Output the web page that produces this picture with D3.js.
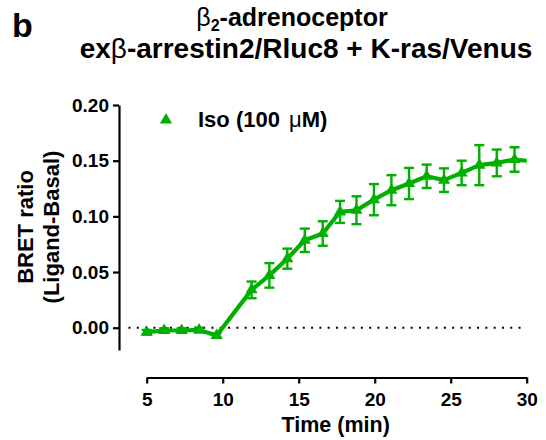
<!DOCTYPE html>
<html>
<head>
<meta charset="utf-8">
<script src="https://cdn.jsdelivr.net/npm/d3@7"></script>
<style>
  body { margin: 0; background: #fff; }
  svg { font-family: "Liberation Sans", Arial, sans-serif; font-weight: bold; }
</style>
</head>
<body>
<svg width="546" height="440"></svg>
<script>
// time points (min), mean BRET ratio and SEM
const times = [5.0, 6.15, 7.3, 8.45, 9.6, 11.9, 13.07, 14.25, 15.4, 16.58, 17.72, 18.8, 19.95,
               21.1, 22.26, 23.42, 24.56, 25.72, 26.88, 28.03, 29.2, 30.35];
const ratio = [-0.004, -0.0025, -0.0025, -0.002, -0.007, 0.034, 0.047, 0.062, 0.0785, 0.0846, 0.104,
               0.1055, 0.115, 0.1235, 0.1295, 0.136, 0.1325, 0.139, 0.146, 0.148, 0.151, 0.1495];
const sem = [0.002, 0.002, 0.002, 0.002, 0.002, 0.0075, 0.011, 0.009, 0.0105, 0.011, 0.0099,
             0.0125, 0.014, 0.0135, 0.014, 0.0105, 0.0106, 0.011, 0.018, 0.012, 0.011, 0.011];
const xTicks = [5, 10, 15, 20, 25, 30];
const yTicks = [0, 0.05, 0.10, 0.15, 0.20];

const green = "#00b000";
const data = times.map((t, i) => ({ t: t, v: ratio[i], e: sem[i] }));

const svg = d3.select("svg");

const x = d3.scaleLinear().domain([5, 30]).range([146.7, 526.7]);
const y = d3.scaleLinear().domain([-0.02, 0.2]).range([350, 105]);

// clip data at the end of the x axis
svg.append("defs").append("clipPath").attr("id", "plotclip")
    .append("rect")
    .attr("x", 120).attr("y", 0)
    .attr("width", x(30) - 120).attr("height", 440);

// y axis
const yAxis = svg.append("g")
    .attr("transform", "translate(119,0)")
    .call(d3.axisLeft(y).tickValues(yTicks).tickFormat(d3.format(".2f")).tickSize(6).tickSizeOuter(0).tickPadding(4));

// x axis
const xAxis = svg.append("g")
    .attr("transform", "translate(0,377.5)")
    .call(d3.axisBottom(x).tickValues(xTicks).tickSize(6).tickSizeOuter(0).tickPadding(9));

[yAxis, xAxis].forEach(g => {
    g.select(".domain").attr("stroke", "#000").attr("stroke-width", 2.2);
    g.selectAll(".tick line").attr("stroke", "#000").attr("stroke-width", 2.2);
    g.selectAll(".tick text").attr("fill", "#000")
        .style("font-size", "19px").style("font-weight", "bold")
        .style("font-family", "'Liberation Sans', Arial, sans-serif");
});

// dotted zero line
svg.append("line")
    .attr("x1", x(3.8)).attr("x2", x(30))
    .attr("y1", y(0)).attr("y2", y(0))
    .attr("stroke", "#000")
    .attr("stroke-width", 2)
    .attr("stroke-dasharray", "2,6.3");

const plot = svg.append("g").attr("clip-path", "url(#plotclip)");

// error bars
const bars = plot.selectAll(".err").data(data).enter().append("g").attr("class", "err")
    .attr("stroke", green).attr("stroke-width", 2.4);
bars.append("line")
    .attr("x1", d => x(d.t)).attr("x2", d => x(d.t))
    .attr("y1", d => y(d.v - d.e)).attr("y2", d => y(d.v + d.e));
bars.append("line")
    .attr("x1", d => x(d.t) - 5).attr("x2", d => x(d.t) + 5)
    .attr("y1", d => y(d.v + d.e)).attr("y2", d => y(d.v + d.e));
bars.append("line")
    .attr("x1", d => x(d.t) - 5).attr("x2", d => x(d.t) + 5)
    .attr("y1", d => y(d.v - d.e)).attr("y2", d => y(d.v - d.e));

// mean line
plot.append("path")
    .datum(data)
    .attr("fill", "none")
    .attr("stroke", green)
    .attr("stroke-width", 4.2)
    .attr("stroke-linejoin", "round")
    .attr("d", d3.line().x(d => x(d.t)).y(d => y(d.v)));

// markers
const tri = d3.symbol(d3.symbolTriangle).size(64);
plot.selectAll(".pt").data(data).enter().append("path")
    .attr("class", "pt")
    .attr("d", tri)
    .attr("fill", green)
    .attr("transform", d => `translate(${x(d.t)},${y(d.v)})`);

// legend
svg.append("path").attr("d", tri).attr("fill", green).attr("transform", "translate(166,120)");
const leg = svg.append("text").attr("x", 198).attr("y", 127)
    .style("font-size", "22px");
leg.append("tspan").text("Iso (100 ");
leg.append("tspan").attr("dx", 3).style("font-weight", "normal").text("\u03bc");
leg.append("tspan").text("M)");

// axis titles
svg.append("text")
    .attr("x", x(17.5) - 1).attr("y", 431.5)
    .attr("text-anchor", "middle")
    .style("font-size", "21.5px")
    .text("Time (min)");

const yTitle = svg.append("text")
    .attr("transform", "translate(33,227) rotate(-90)")
    .attr("text-anchor", "middle")
    .style("font-size", "22px");
yTitle.append("tspan").attr("x", 0).attr("y", 0).text("BRET ratio");
yTitle.append("tspan").attr("x", 0).attr("y", 26).text("(Ligand-Basal)");

// panel letter and title
svg.append("text").attr("x", 12).attr("y", 37).style("font-size", "34px").text("b");

const t1 = svg.append("text")
    .attr("x", 292).attr("y", 26)
    .attr("text-anchor", "middle")
    .style("font-size", "25px");
t1.append("tspan").style("font-weight", "normal").text("\u03b2");
t1.append("tspan").attr("dy", 5).style("font-size", "16px").text("2");
t1.append("tspan").attr("dy", -5).text("-adrenoceptor");

const t2 = svg.append("text")
    .attr("x", 306).attr("y", 58)
    .attr("text-anchor", "middle")
    .style("font-size", "28px");
t2.append("tspan").text("ex");
t2.append("tspan").style("font-weight", "normal").text("\u03b2");
t2.append("tspan").text("-arrestin2/Rluc8 + K-ras/Venus");
</script>
</body>
</html>
